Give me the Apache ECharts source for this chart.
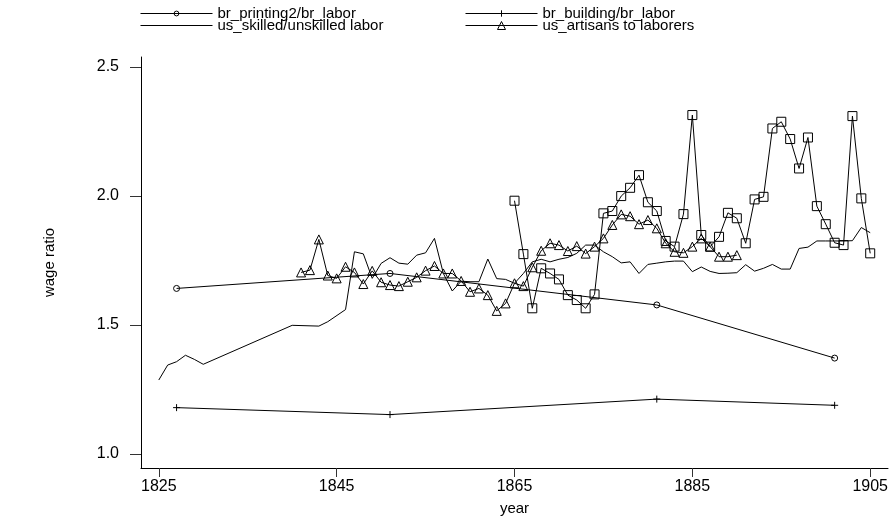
<!DOCTYPE html>
<html>
<head>
<meta charset="utf-8">
<script src="https://cdn.jsdelivr.net/npm/echarts@6/dist/echarts.min.js"></script>
<style>
  html, body { margin: 0; padding: 0; background: #fff; }
  #chart { width: 891px; height: 518px; }
</style>
</head>
<body>
<div id="chart"></div>
<script>
// tick labels
const xTicks = [1825, 1845, 1865, 1885, 1905];
const yTicks = [1.0, 1.5, 2.0, 2.5];

// br_printing2/br_labor
const printYears = [1827, 1851, 1881, 1901];
const printRatio = [1.642, 1.70, 1.578, 1.372];

// br_building/br_labor
const buildYears = [1827, 1851, 1881, 1901];
const buildRatio = [1.18, 1.153, 1.213, 1.189];

// us_skilled/unskilled labor
const skillYears = [1825, 1826, 1827, 1828, 1829, 1830, 1840, 1843, 1844, 1846, 1847, 1848, 1849, 1850,
  1851, 1852, 1853, 1854, 1855, 1856, 1857, 1858, 1859, 1860, 1861, 1862, 1863, 1864, 1865, 1866,
  1867, 1868, 1869, 1870, 1871, 1872, 1873, 1874, 1875, 1876, 1877, 1878, 1879, 1880, 1881, 1882,
  1883, 1884, 1885, 1886, 1887, 1888, 1889, 1890, 1891, 1892, 1893, 1894, 1895, 1896, 1897, 1898,
  1899, 1900, 1901, 1902, 1903, 1904, 1905];
const skillRatio = [1.287, 1.345, 1.358, 1.383, 1.367, 1.348, 1.499, 1.496, 1.513, 1.56, 1.784, 1.776, 1.681, 1.739,
  1.761, 1.740, 1.736, 1.771, 1.780, 1.836, 1.70, 1.632, 1.670, 1.668, 1.668, 1.756, 1.680, 1.677, 1.662, 1.70,
  1.745, 1.755, 1.745, 1.755, 1.762, 1.778, 1.81, 1.81, 1.784, 1.765, 1.741, 1.745, 1.700, 1.735, 1.74, 1.745,
  1.748, 1.748, 1.707, 1.725, 1.708, 1.700, 1.701, 1.703, 1.734, 1.709, 1.72, 1.735, 1.717, 1.717, 1.797, 1.802,
  1.826, 1.826, 1.826, 1.826, 1.827, 1.878, 1.858];

// us_artisans to laborers
const artisanYears = [1841, 1842, 1843, 1844, 1845, 1846, 1847, 1848, 1849, 1850, 1851, 1852, 1853, 1854, 1855,
  1856, 1857, 1858, 1859, 1860, 1861, 1862, 1863, 1864, 1865, 1866, 1867, 1868, 1869, 1870, 1871, 1872,
  1873, 1874, 1875, 1876, 1877, 1878, 1879, 1880, 1881, 1882, 1883, 1884, 1885, 1886, 1887, 1888, 1889, 1890];
const artisanRatio = [1.704, 1.713, 1.832, 1.692, 1.681, 1.726, 1.704, 1.659, 1.710, 1.666, 1.655, 1.651, 1.668, 1.685, 1.711,
  1.729, 1.70, 1.70, 1.671, 1.629, 1.642, 1.616, 1.555, 1.584, 1.662, 1.651, 1.724, 1.788, 1.817, 1.81, 1.787, 1.806,
  1.777, 1.804, 1.836, 1.888, 1.929, 1.922, 1.891, 1.907, 1.875, 1.817, 1.784, 1.78, 1.804, 1.836, 1.804, 1.765, 1.765, 1.771];

// unlabelled square series
const squareYears = [1865, 1866, 1867, 1868, 1869, 1870, 1871, 1872, 1873, 1874, 1875, 1876, 1877, 1878, 1879,
  1880, 1881, 1882, 1883, 1884, 1885, 1886, 1887, 1888, 1889, 1890, 1891, 1892, 1893, 1894, 1895, 1896,
  1897, 1898, 1899, 1900, 1901, 1902, 1903, 1904, 1905];
const squareRatio = [1.982, 1.775, 1.565, 1.72, 1.70, 1.677, 1.616, 1.597, 1.565, 1.619, 1.933, 1.942, 2.0, 2.032, 2.081,
  1.976, 1.942, 1.826, 1.804, 1.93, 2.314, 1.849, 1.804, 1.842, 1.935, 1.914, 1.817, 1.987, 1.997, 2.262, 2.288, 2.221,
  2.107, 2.227, 1.961, 1.891, 1.819, 1.81, 2.31, 1.991, 1.778];

const zip = (xs, ys) => xs.map((x, i) => [x, ys[i]]);

const font = 'Liberation Sans, Arial, sans-serif';
const hollow = { color: 'transparent', borderColor: '#000', borderWidth: 1 };
const line = { color: '#000', width: 1 };
const plusPath = 'path://M5,0L5,10M0,5L10,5';

function legendAt(name, left, top, h, markStyle) {
  return {
    data: [name],
    left: left,
    top: top,
    padding: 0,
    itemWidth: 72,
    itemHeight: h,
    itemGap: 0,
    selectedMode: false,
    itemStyle: markStyle,
    lineStyle: { color: '#000', width: 1 },
    textStyle: { fontFamily: font, fontSize: 15, color: '#000' }
  };
}

const chart = echarts.init(document.getElementById('chart'));
chart.setOption({
  animation: false,
  backgroundColor: '#fff',
  legend: [
    legendAt('br_printing2/br_labor', 140, 6, 6, hollow),
    legendAt('br_building/br_labor', 465, 6, 8, hollow),
    legendAt('us_skilled/unskilled labor', 140, 18, 8, { color: 'transparent', borderWidth: 0, opacity: 0 }),
    legendAt('us_artisans to laborers', 465, 18, 10, hollow)
  ],
  grid: { left: 141, right: 3, top: 57, bottom: 50, outerBoundsMode: 'none' },
  xAxis: {
    type: 'value',
    min: 1823,
    max: 1907,
    name: 'year',
    nameLocation: 'middle',
    nameGap: 33,
    nameTextStyle: { fontFamily: font, fontSize: 15, color: '#000' },
    axisLine: { onZero: false, lineStyle: { color: '#000', width: 1 } },
    axisTick: { customValues: xTicks, length: 9, lineStyle: { color: '#333' } },
    axisLabel: { customValues: xTicks, margin: 11, fontFamily: font, fontSize: 16, color: '#000',
      formatter: v => String(v) },
    splitLine: { show: false }
  },
  yAxis: {
    type: 'value',
    min: 0.946,
    max: 2.539,
    name: 'wage ratio',
    nameLocation: 'middle',
    nameGap: 84,
    nameTextStyle: { fontFamily: font, fontSize: 15, color: '#000' },
    axisLine: { show: true, onZero: false, lineStyle: { color: '#000', width: 1 } },
    axisTick: { show: true, customValues: yTicks, length: 11, lineStyle: { color: '#333' } },
    axisLabel: { customValues: yTicks, margin: 22, fontFamily: font, fontSize: 16, color: '#000',
      formatter: v => v.toFixed(1) },
    splitLine: { show: false }
  },
  series: [
    {
      name: 'br_printing2/br_labor', type: 'line', data: zip(printYears, printRatio),
      symbol: 'circle', symbolSize: 6, itemStyle: hollow, lineStyle: line
    },
    {
      name: 'br_building/br_labor', type: 'line', data: zip(buildYears, buildRatio),
      symbol: plusPath, symbolSize: 7, itemStyle: hollow, lineStyle: line
    },
    {
      name: 'us_skilled/unskilled labor', type: 'line', data: zip(skillYears, skillRatio),
      symbol: 'none', itemStyle: { color: '#000' }, lineStyle: line
    },
    {
      name: 'us_artisans to laborers', type: 'line', data: zip(artisanYears, artisanRatio),
      symbol: 'triangle', symbolSize: 9, itemStyle: hollow, lineStyle: line
    },
    {
      name: 'us_other', type: 'line', data: zip(squareYears, squareRatio),
      symbol: 'rect', symbolSize: 9, itemStyle: hollow, lineStyle: line
    }
  ]
});
</script>
</body>
</html>
